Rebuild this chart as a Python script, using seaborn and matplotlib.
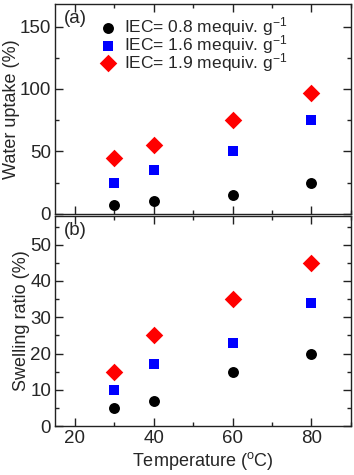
import matplotlib
matplotlib.use("Agg")
import pandas as pd
import matplotlib.pyplot as plt
import seaborn as sns
from matplotlib.ticker import MultipleLocator

# data
temperature = [30, 40, 60, 80]
iec_labels = ["0.8", "1.6", "1.9"]
water_uptake = {
    "0.8": [7, 10, 15, 25],
    "1.6": [25, 35, 50, 75],
    "1.9": [45, 55, 75, 97],
}
swelling_ratio = {
    "0.8": [5, 7, 15, 20],
    "1.6": [10, 17, 23, 34],
    "1.9": [15, 25, 35, 45],
}

styles = {
    "0.8": dict(marker="o", color="black", s=62),
    "1.6": dict(marker="s", color="#0000ff", s=58),
    "1.9": dict(marker="D", color="#ff0000", s=80),
}

sns.set_style("ticks")
plt.rcParams["font.family"] = ["Liberation Sans", "DejaVu Sans"]
plt.rcParams["mathtext.fontset"] = "custom"
plt.rcParams["mathtext.rm"] = "Liberation Sans"
plt.rcParams["mathtext.it"] = "Liberation Sans"
plt.rcParams["font.size"] = 13


def long_frame(values):
    rows = []
    for key in iec_labels:
        for t, v in zip(temperature, values[key]):
            rows.append({"T": t, "val": v, "IEC": key})
    return pd.DataFrame(rows)


def style_axis(ax):
    ax.tick_params(which="both", direction="in", top=True, right=True,
                   labelsize=13.5, width=1, color="#222222", pad=3)
    ax.tick_params(which="major", length=5.5)
    ax.tick_params(which="minor", length=3)
    for sp in ax.spines.values():
        sp.set_linewidth(1)
        sp.set_color("#222222")
    ax.set_xlim(15, 90)
    ax.xaxis.set_major_locator(MultipleLocator(20))
    ax.xaxis.set_minor_locator(MultipleLocator(10))


fig = plt.figure(figsize=(3.54, 4.75), dpi=100)
ax1 = fig.add_axes([0.156, 0.550, 0.835, 0.4415])
ax2 = fig.add_axes([0.156, 0.103, 0.835, 0.443])

df_w = long_frame(water_uptake)
df_s = long_frame(swelling_ratio)

for key in iec_labels:
    st = styles[key]
    sub = df_w[df_w["IEC"] == key]
    sns.scatterplot(data=sub, x="T", y="val", ax=ax1, marker=st["marker"],
                    color=st["color"], s=st["s"], linewidth=0,
                    label="IEC= " + key + " mequiv. g$^{-1}$")
    sub = df_s[df_s["IEC"] == key]
    sns.scatterplot(data=sub, x="T", y="val", ax=ax2, marker=st["marker"],
                    color=st["color"], s=st["s"], linewidth=0, legend=False)

style_axis(ax1)
ax1.set_ylim(0, 168)
ax1.yaxis.set_major_locator(MultipleLocator(50))
ax1.yaxis.set_minor_locator(MultipleLocator(25))
ax1.tick_params(labelbottom=False)
ax1.set_xlabel("")
ax1.set_ylabel("Water uptake (%)", fontsize=13, labelpad=0)
ax1.text(0.03, 0.93, "(a)", transform=ax1.transAxes, fontsize=13.5, va="center")
ax1.legend(loc="upper left", bbox_to_anchor=(0.148, 0.946), frameon=False,
           borderpad=0, borderaxespad=0, handlelength=1, handletextpad=0.45,
           labelspacing=-0.3, fontsize=12.5)

style_axis(ax2)
ax2.set_ylim(0, 58)
ax2.yaxis.set_major_locator(MultipleLocator(10))
ax2.yaxis.set_minor_locator(MultipleLocator(5))
ax2.set_xlabel("Temperature ($^{o}$C)", fontsize=13, labelpad=2)
ax2.set_ylabel("Swelling ratio (%)", fontsize=13, labelpad=0)
ax2.text(0.03, 0.93, "(b)", transform=ax2.transAxes, fontsize=13.5, va="center")

fig.savefig("out.png", dpi=100)
